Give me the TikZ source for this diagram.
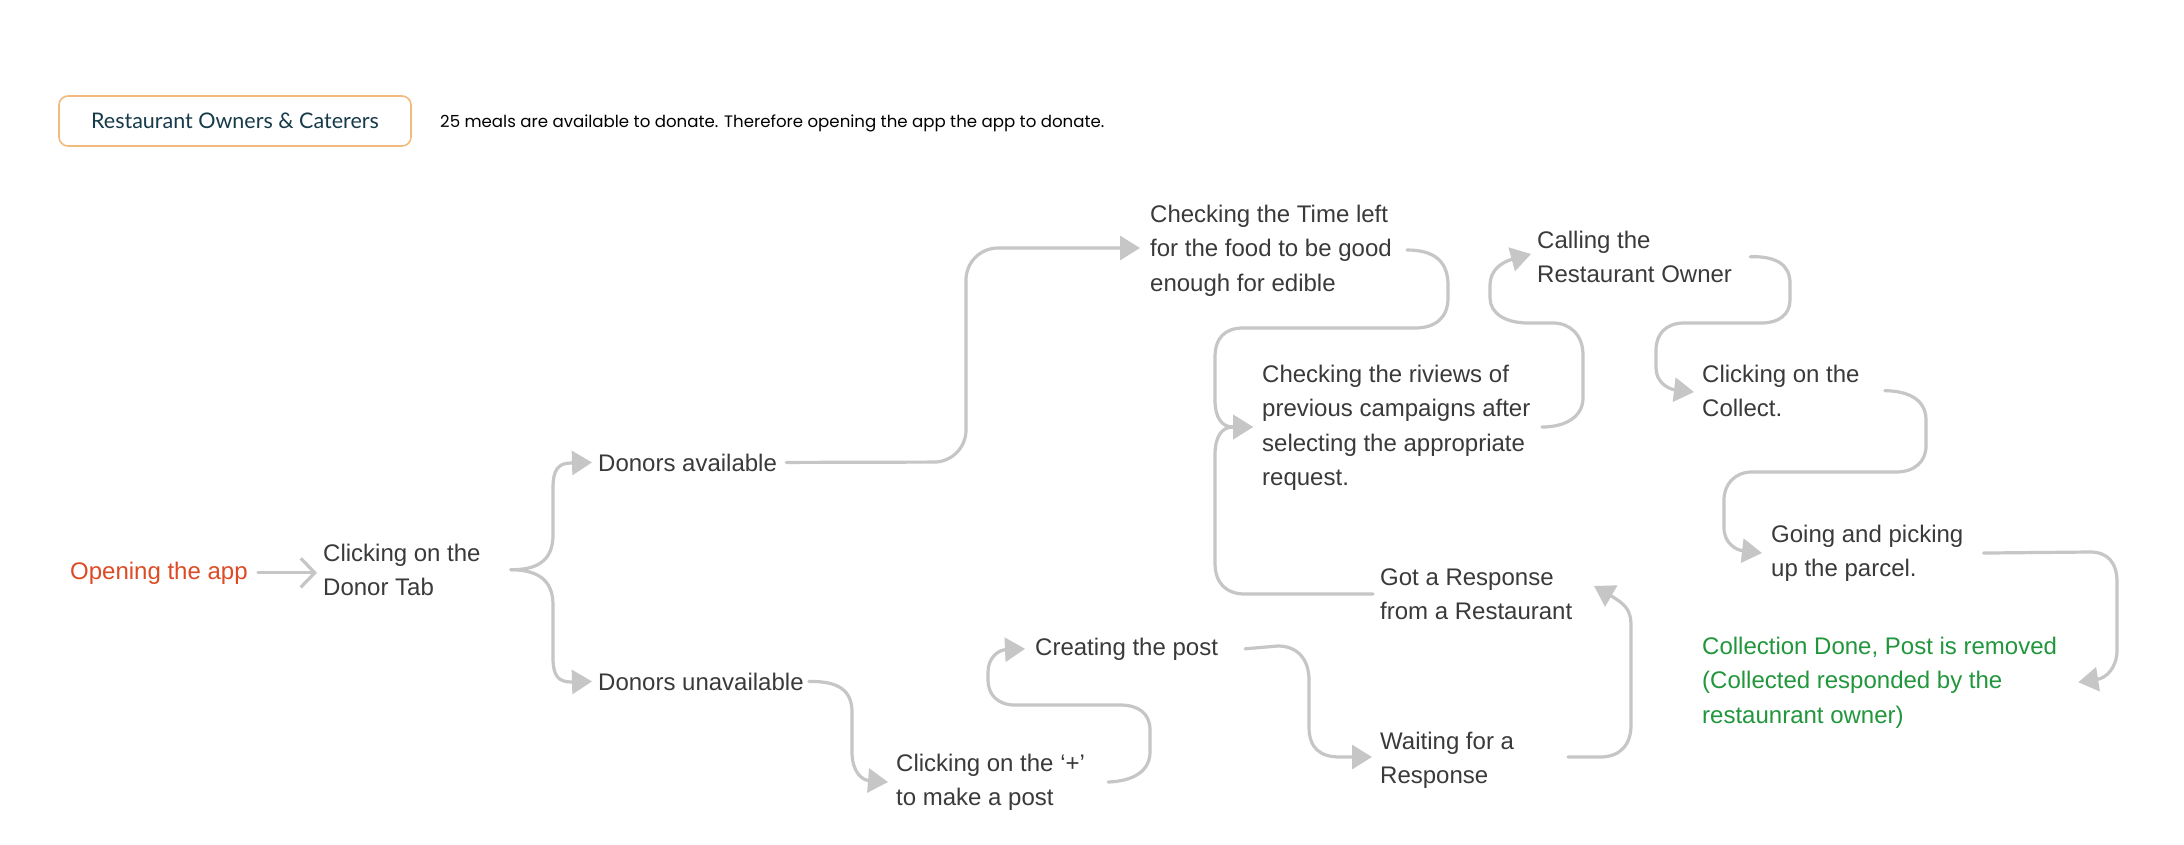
\documentclass[tikz,border=0pt]{standalone}
\usepackage{fontspec}
\setmainfont{Liberation Sans}
\newfontfamily\popfont{Poppins}
\newfontfamily\latofont{Lato}
\usetikzlibrary{arrows.meta}
\definecolor{txt}{HTML}{3A3A3A}
\definecolor{conn}{HTML}{C6C6C6}
\definecolor{orng}{HTML}{DC4B23}
\definecolor{grn}{HTML}{22963C}
\definecolor{hdrtxt}{HTML}{163A4A}
\definecolor{hdrb}{HTML}{F3BA7E}
\begin{document}
\begin{tikzpicture}[x=1pt,y=-1pt,
  lbl/.style={anchor=base west, inner sep=0pt, align=left, text=txt,
    font=\fontsize{24}{34.5}\selectfont},
  link/.style={draw=conn, line width=3.2pt, line cap=round},
  tri/.style={-{Triangle[length=20pt,width=24pt]}},
  barb/.style={-{Straight Barb[length=14pt,width=29pt]}},
  hdrbox/.style={draw=hdrb, line width=1.6pt, rounded corners=9pt,
    minimum width=352pt, minimum height=50pt, inner sep=0pt, text=hdrtxt,
    font=\latofont\fontsize{21.5}{24}\selectfont}
]
\fill[white] (0,0) rectangle (2184,844);
\useasboundingbox (0,0) rectangle (2184,844);

% header
\node[hdrbox] (hdr) at (235,121) {Restaurant Owners \& Caterers};
\node[anchor=west, inner sep=0pt, text=black, font=\popfont\fontsize{16.6}{20}\selectfont] (note) at (440,123)
  {25 meals are available to donate. Therefore opening the app the app to donate.};

% text nodes (placed at the baseline of their last line)
\node[lbl, text=orng] (open) at (70,579) {Opening the app};
\node[lbl] (cdt) at (323,595.5) {Clicking on the\\Donor Tab};
\node[lbl] (dav) at (598,471) {Donors available};
\node[lbl] (dun) at (598,690) {Donors unavailable};
\node[lbl] (ctl) at (1150,291) {Checking the Time left\\for the food to be good\\enough for edible};
\node[lbl] (crv) at (1262,485.5) {Checking the riviews of\\previous campaigns after\\selecting the appropriate\\request.};
\node[lbl] (cal) at (1537,282.5) {Calling the\\Restaurant Owner};
\node[lbl] (ccl) at (1702,416.5) {Clicking on the\\Collect.};
\node[lbl] (gop) at (1771,576.5) {Going and picking\\up the parcel.};
\node[lbl, text=grn] (done) at (1702,723) {Collection Done, Post is removed\\(Collected responded by the\\restaunrant owner)};
\node[lbl] (grr) at (1380,619.5) {Got a Response\\from a Restaurant};
\node[lbl] (cpost) at (1035,655) {Creating the post};
\node[lbl] (cplus) at (896,805.5) {Clicking on the ‘+’\\to make a post};
\node[lbl] (wait) at (1380,783.5) {Waiting for a\\Response};

% connectors
\draw[link,barb] ([xshift=10pt]open.east) -- ([xshift=-6pt]open.east -| cdt.west);

\coordinate (btip) at ([xshift=30pt]cdt.east);
\draw[link,tri] (btip) .. controls (538,570) and (553,560) .. (553,535) -- (553,488)
  .. controls (553,470) and (558,463) .. (571,463) -- ([xshift=-6pt]dav.west);
\draw[link,tri] (btip) .. controls (538,570) and (553,580) .. (553,605) -- (553,658)
  .. controls (553,675) and (558,682) .. (571,682) -- ([xshift=-6pt]dun.west);

\draw[link,tri,rounded corners=32pt] ([xshift=9pt]dav.east) -- (966,462) -- (966,248)
  -- ([shift={(-10,-43)}]ctl.base west);

\draw[link,tri] ([shift={(257,-41)}]ctl.base west) .. controls (1435,250) and (1448,262) .. (1448,285)
  -- (1448,298) .. controls (1448,318) and (1435,328) .. (1415,328) -- (1243,328)
  .. controls (1225,328) and (1215,338) .. (1215,357) -- (1215,400)
  .. controls (1215,418) and (1222,427) .. (1233,427) -- ([shift={(-9,-58.5)}]crv.base west);

\draw[link,tri] ([xshift=-7pt]grr.west) -- (1245,594) .. controls (1226,594) and (1215,583) .. (1215,563)
  -- (1215,455) .. controls (1215,436) and (1222,427) .. (1233,427) -- ([shift={(-9,-58.5)}]crv.base west);

\draw[link,tri] ([shift={(280,-58.5)}]crv.base west) .. controls (1568,427) and (1583,415) .. (1583,398)
  -- (1583,355) .. controls (1583,335) and (1570,323) .. (1553,323) -- (1528,323)
  .. controls (1505,323) and (1490,313) .. (1490,298) -- (1490,285)
  .. controls (1490,270) and (1502,262) .. ([shift={(-6,-28.5)}]cal.base west);

\draw[link,tri] ([xshift=18pt]cal.east) .. controls (1778,256) and (1790,266) .. (1790,283)
  -- (1790,300) .. controls (1790,315) and (1778,323) .. (1762,323) -- (1684,323)
  .. controls (1666,323) and (1656,334) .. (1656,350) -- (1656,368)
  .. controls (1656,382) and (1668,389) .. ([shift={(-8,-24.5)}]ccl.base west);

\draw[link,tri] ([xshift=25pt]ccl.east) .. controls (1912,391) and (1926,402) .. (1926,420)
  -- (1926,446) .. controls (1926,462) and (1914,472) .. (1896,472) -- (1752,472)
  .. controls (1735,472) and (1724,484) .. (1724,500) -- (1724,528)
  .. controls (1724,543) and (1736,550) .. ([shift={(-9,-23.5)}]gop.base west);

\draw[link,tri] ([xshift=20pt]gop.east) -- (2090,552) .. controls (2108,552) and (2117,563) .. (2117,582)
  -- (2117,650) .. controls (2117,668) and (2106,678) .. ([xshift=21pt]done.east);

\draw[link,tri] ([xshift=5pt]dun.east) .. controls (838,681) and (852,690) .. (852,712)
  -- (852,752) .. controls (852,772) and (862,780) .. ([xshift=-8pt]cplus.west);

\draw[link,tri] ([xshift=23pt]cplus.east) .. controls (1135,781) and (1150,770) .. (1150,752)
  -- (1150,730) .. controls (1150,713) and (1138,705) .. (1120,705) -- (1015,705)
  .. controls (998,705) and (988,695) .. (988,680) -- (988,672)
  .. controls (988,658) and (998,650) .. ([xshift=-10pt]cpost.west);

\draw[link,tri] ([xshift=27pt]cpost.east) -- (1278,646) .. controls (1298,646) and (1309,660) .. (1309,680)
  -- (1309,727) .. controls (1309,748) and (1320,757) .. (1340,757) -- ([shift={(-8,-26.5)}]wait.base west);

\draw[link,tri] ([shift={(188,-26.5)}]wait.base west) -- (1600,757) .. controls (1620,757) and (1631,745) .. (1631,725)
  -- (1631,625) .. controls (1631,610) and (1625,604) .. ([shift={(214,-33.5)}]grr.base west);
\end{tikzpicture}
\end{document}
